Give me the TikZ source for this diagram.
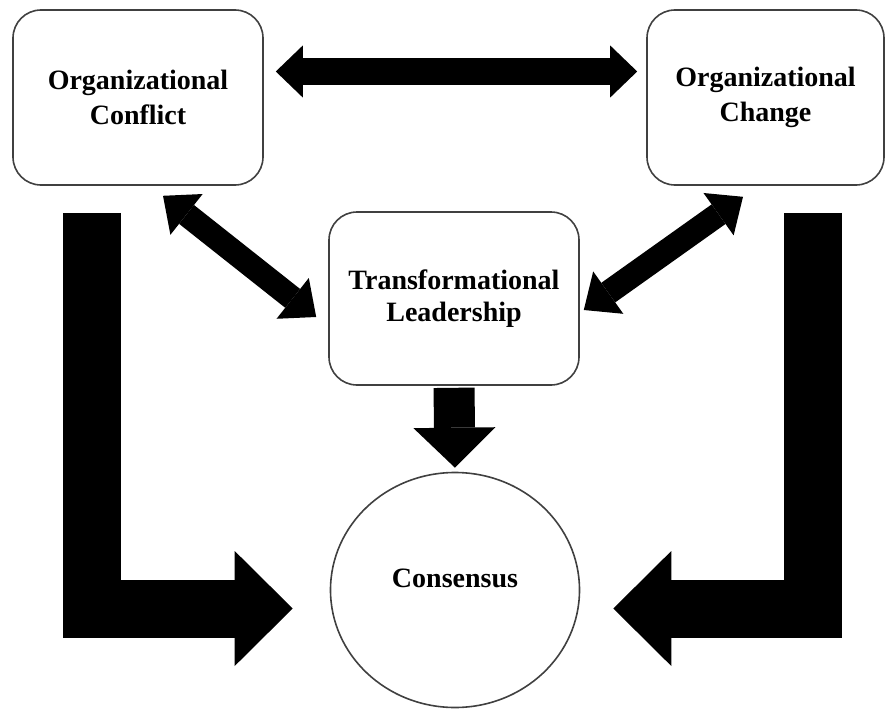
\documentclass[tikz,border=0pt]{standalone}
\usepackage{fontspec}
\setmainfont{Liberation Serif}
\usetikzlibrary{arrows.meta,shapes.geometric}

\begin{document}
\begin{tikzpicture}[x=1pt,y=-1pt,
  box/.style={draw=black!75,line width=1.6pt,rounded corners=28pt,align=center,
    minimum width=250pt,minimum height=175pt,font=\fontsize{28}{35}\selectfont\bfseries},
  bigarrow/.style={line width=#1,line cap=butt,line join=miter},
  hhead/.tip={Triangle[length=27pt,width=52pt,line width=0pt]},
  dhead/.tip={Triangle[length=30pt,width=52pt,line width=0pt]},
  vhead/.tip={Triangle[length=40pt,width=82pt,line width=0pt]},
  lhead/.tip={Triangle[length=58pt,width=115pt,line width=0pt]}]
  \useasboundingbox (0,0) rectangle (886,709);

  \node[box] (conflict) at (138,97.5) {Organizational\\Conflict};
  \node[box,minimum width=237pt] (change) at (765.5,97.5) {Organizational\\Change};
  \node[box,minimum height=173pt,font=\fontsize{28}{32}\selectfont\bfseries] (leader) at (454,298.5) {Transformational\\Leadership};
  \node[draw=black!75,line width=1.6pt,ellipse,minimum width=249pt,minimum height=235pt,
    font=\fontsize{28}{35}\selectfont\bfseries,text depth=24pt] (consensus) at (455,590) {Consensus};

  % two-way links
  \draw[bigarrow=27pt,hhead-hhead] ([shift={(12,-26)}]conflict.east) -- ([shift={(-9,-26)}]change.west);
  \draw[bigarrow=24pt,dhead-dhead] ([shift={(25,10)}]conflict.south) -- ([shift={(-12,18.5)}]leader.west);
  \draw[bigarrow=24pt,dhead-dhead] ([shift={(-22.5,11)}]change.south) -- ([shift={(4,11.5)}]leader.east);

  % into consensus
  \draw[bigarrow=41pt,-vhead,shorten <=2pt,shorten >=4pt] (leader.south) -- (consensus.north);
  \draw[bigarrow=58pt,-lhead] ([shift={(-46,27)}]conflict.south) |- ([shift={(-37,18.5)}]consensus.west);
  \draw[bigarrow=58pt,-lhead] ([shift={(47,27)}]change.south) |- ([shift={(33,18.5)}]consensus.east);
\end{tikzpicture}
\end{document}
